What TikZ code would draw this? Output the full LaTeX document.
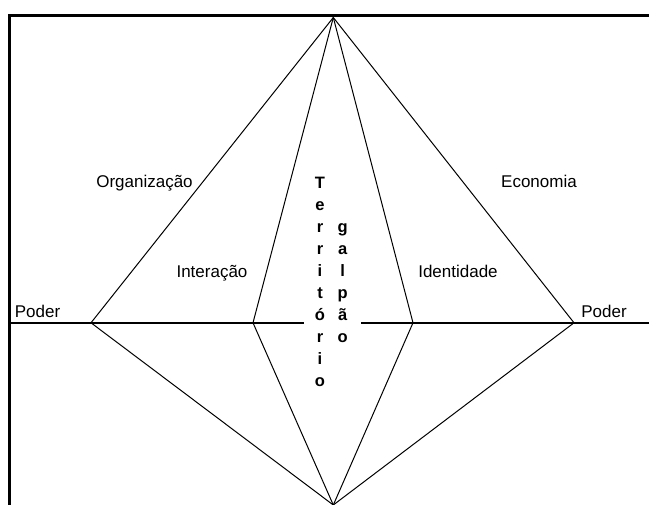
\documentclass[tikz,border=0pt]{standalone}
\usepackage{fontspec}
\setmainfont{Liberation Sans}
\begin{document}
\begin{tikzpicture}[x=1pt,y=-1pt,
  frameline/.style={line width=2.7pt},
  axisline/.style={line width=1.8pt},
  edge/.style={line width=1pt},
  lbl/.style={font=\fontsize{17}{19}\selectfont, anchor=base, inner sep=0pt},
  vletter/.style={font=\fontsize{16.5}{19}\selectfont\bfseries, anchor=base, inner sep=0pt}]
\useasboundingbox (0,0) rectangle (649,505);
% frame
\coordinate (fbl) at (9.3,505);
\coordinate (ftl) at (9.3,15.5);
\coordinate (ftr) at (649,15.5);
\draw[frameline] (fbl) -- (ftl) -- (ftr);
% axis
\coordinate (al) at (9.3,322.8);
\coordinate (am1) at (304,322.8);
\coordinate (am2) at (361,322.8);
\coordinate (ar) at (649,322.8);
\draw[axisline] (al) -- (am1);
\draw[axisline] (am2) -- (ar);
% vertices
\coordinate (top) at (333.3,17.5);
\coordinate (bot) at (333.3,505);
\coordinate (lo) at (91,322.8);
\coordinate (li) at (253,322.8);
\coordinate (ri) at (413,322.8);
\coordinate (ro) at (574,322.8);
\foreach \v in {lo,li,ri,ro}{
  \draw[edge] (top) -- (\v);
  \draw[edge] (bot) -- (\v);
}
% labels
\node[lbl] (org) at (144.5,188) {Organização};
\node[lbl] (eco) at (539,188) {Economia};
\node[lbl] (int) at (212,277.7) {Interação};
\node[lbl] (ide) at (458,277.7) {Identidade};
\node[lbl] (pl) at (37.5,318) {Poder};
\node[lbl] (pr) at (604,318) {Poder};
% vertical words
\foreach \l [count=\i] in {T,e,r,r,i,t,ó,r,i,o}
  \node[vletter] (t\i) at (320,188.7+22*\i-22) {\l};
\foreach \l [count=\i] in {g,a,l,p,ã,o}
  \node[vletter] (g\i) at (342.7,232.6+22*\i-22) {\l};
\end{tikzpicture}
\end{document}
